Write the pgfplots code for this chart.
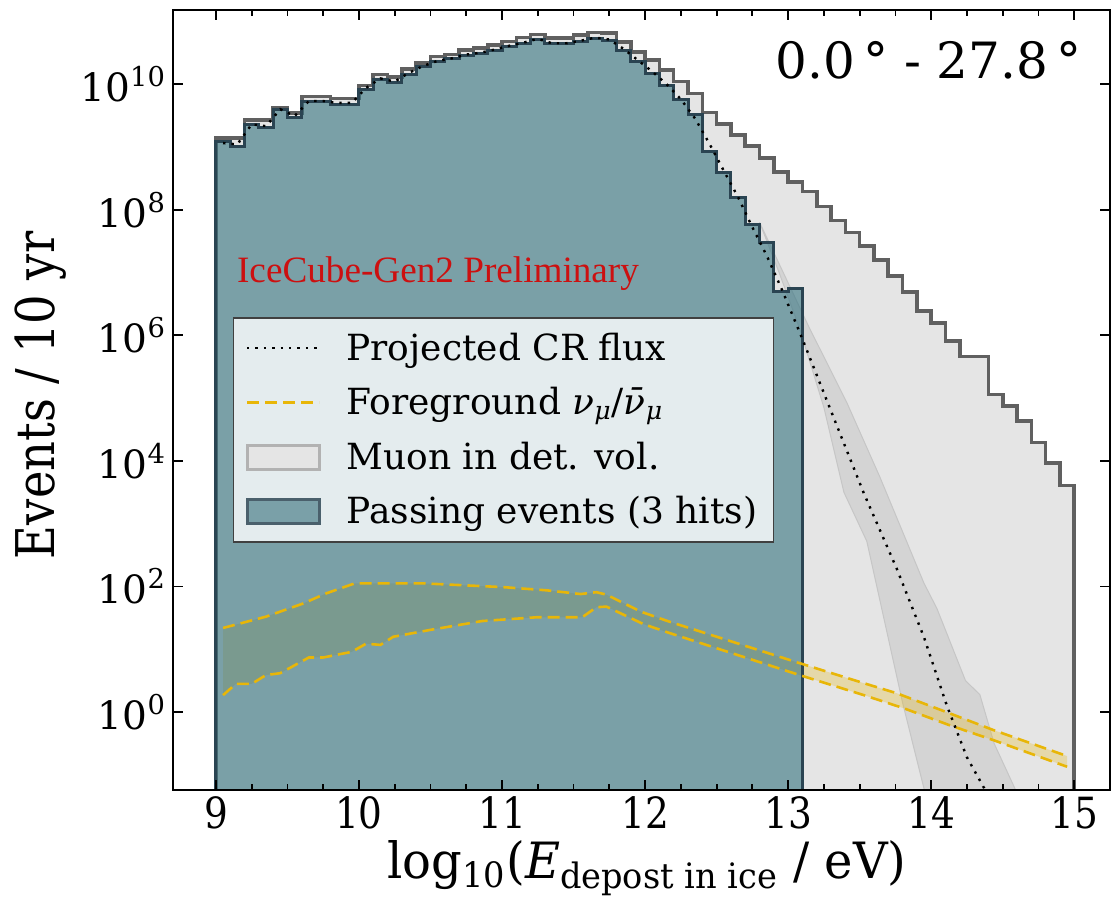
\documentclass[border=0pt]{standalone}
\usepackage{fontspec}
\setmainfont{DejaVu Serif}
\newfontfamily\condfont[FakeStretch=0.87]{DejaVu Serif}
\newfontfamily\xlabfont[FakeStretch=0.96]{DejaVu Serif}
\newfontfamily\timesfont{Liberation Serif}
\usepackage{pgfplots}
\pgfplotsset{compat=1.18}
\definecolor{histgray}{RGB}{229,229,229}
\definecolor{edgegray}{RGB}{96,96,96}
\definecolor{bandgray}{RGB}{212,212,212}
\definecolor{bandedge}{RGB}{198,198,198}
\definecolor{bluefill}{RGB}{51,114,127}
\definecolor{blueleg}{RGB}{122,160,168}
\definecolor{blueedge}{RGB}{42,68,82}
\definecolor{yel}{RGB}{232,182,8}
\definecolor{legbg}{RGB}{228,236,238}
\definecolor{prelim}{RGB}{204,16,16}
\pgfplotsset{
  legend image code/.code={\draw[#1] (0pt,0pt) -- (36pt,0pt);},
  area legend/.style={legend image code/.code={\draw[##1] (0pt,-6pt) rectangle (36pt,6pt);}},
}
\begin{document}
\begin{tikzpicture}
\useasboundingbox (-86.5pt,-53.5pt) rectangle (469.5pt,395pt);
\begin{axis}[
  at={(0pt,0pt)}, anchor=south west,
  scale only axis, width=468.5pt, height=390pt,
  xmin=8.70, xmax=15.25, ymin=-1.24, ymax=11.18,
  axis on top,
  axis line style={line width=1.4pt},
  tick style={line width=0.9pt, color=black},
  tick align=inside,
  major tick length=5pt, minor tick length=2.8pt,
  xtick={9,10,11,12,13,14,15},
  xticklabels={9,10,11,12,13,14,15},
  minor x tick num=3,
  ytick={0,2,4,6,8,10},
  yticklabels={10\textsuperscript{0},10\textsuperscript{2},10\textsuperscript{4},10\textsuperscript{6},10\textsuperscript{8},10\textsuperscript{10}},
  xticklabel style={font=\condfont\fontsize{21.5}{25}\selectfont},
  yticklabel style={font=\fontsize{19.5}{23}\selectfont},
  xlabel={log\textsubscript{10}(\textit{E}\textsubscript{depost in ice} / eV)},
  ylabel={Events / 10 yr},
  xlabel style={at={(axis description cs:0.506,-0.1)}, anchor=center, font=\xlabfont\fontsize{25}{29}\selectfont},
  ylabel style={at={(axis description cs:-0.141,0.506)}, anchor=center, font=\condfont\fontsize{26.7}{30}\selectfont},
  legend style={at={(0.064,0.606)}, anchor=north west, fill=legbg, draw=black!75, line width=0.6pt,
    font=\fontsize{18}{21}\selectfont, row sep=8.1pt, inner xsep=6pt, inner ysep=5.5pt, column sep=11pt},
  legend cell align=left,
]
% Muon in detector volume (outer histogram)
\addplot[const plot, fill=histgray, draw=edgegray, line width=1.8pt, forget plot] coordinates {
(9,-3) (9,9.14) (9.1,9.14) (9.2,9.43) (9.3,9.43) (9.4,9.63) (9.5,9.54) (9.6,9.80) (9.7,9.80) (9.8,9.77) (9.9,9.77)
(10.0,9.98) (10.1,10.15) (10.2,10.11) (10.3,10.24) (10.4,10.34) (10.5,10.44) (10.6,10.47) (10.7,10.54) (10.8,10.57) (10.9,10.62)
(11.0,10.68) (11.1,10.74) (11.2,10.79) (11.3,10.73) (11.4,10.73) (11.5,10.78) (11.6,10.82) (11.7,10.81) (11.8,10.67) (11.9,10.51)
(12.0,10.38) (12.1,10.22) (12.2,10.04) (12.3,9.85) (12.4,9.55) (12.5,9.36) (12.6,9.19) (12.7,9.01) (12.8,8.82) (12.9,8.60)
(13.0,8.44) (13.1,8.29) (13.2,8.05) (13.3,7.83) (13.4,7.64) (13.5,7.42) (13.6,7.20) (13.7,6.94) (13.8,6.69) (13.9,6.39)
(14.0,6.20) (14.1,5.91) (14.2,5.66) (14.3,5.66) (14.4,5.06) (14.5,4.87) (14.6,4.64) (14.7,4.29) (14.8,3.97) (14.9,3.61)
(15.0,3.61) (15.0,-3)} -- cycle;
% CR flux uncertainty band
\addplot[fill=bandgray, draw=bandedge, line width=0.5pt, forget plot] coordinates {
(12.80,7.80) (13.15,6.11) (13.41,4.93) (13.64,3.75) (13.95,2.05) (14.04,1.65) (14.24,0.50) (14.34,0.28) (14.44,-0.50) (14.59,-1.24) (14.65,-1.6)
(14.0,-1.6) (13.95,-1.22) (13.80,0.15) (13.69,1.28) (13.55,2.72) (13.39,3.50) (13.25,4.85) (13.08,6.11) (12.94,6.98)} -- cycle;
% Foreground neutrino band (fill)
\addplot[fill=yel, fill opacity=0.27, draw=none, forget plot] coordinates {
(9.05,1.34) (9.35,1.52) (9.61,1.73) (9.77,1.89) (9.97,2.05) (10.45,2.05) (11.01,1.99) (11.31,1.94) (11.55,1.88) (11.66,1.91) (11.73,1.87) (11.97,1.60) (12.17,1.44) (13.08,0.78) (13.53,0.46) (13.76,0.30) (14.13,-0.02) (14.44,-0.29) (14.95,-0.70)
(14.95,-0.87) (14.44,-0.45) (14.13,-0.21) (13.81,0.06) (13.53,0.27) (13.08,0.59) (12.17,1.26) (11.99,1.40) (11.73,1.68) (11.66,1.67) (11.56,1.51) (11.24,1.51) (10.86,1.45) (10.50,1.31) (10.24,1.20) (10.15,1.07) (10.05,1.09) (9.95,0.96) (9.75,0.87) (9.65,0.87) (9.45,0.62) (9.35,0.59) (9.25,0.45) (9.14,0.45) (9.05,0.27)} -- cycle;
% Passing events
\addplot[const plot, fill=bluefill, fill opacity=0.6, draw=blueedge, line width=1.5pt, forget plot] coordinates {
(9,-3) (9,9.08) (9.1,9.01) (9.2,9.36) (9.3,9.31) (9.4,9.59) (9.5,9.47) (9.6,9.72) (9.7,9.72) (9.8,9.68) (9.9,9.68)
(10.0,9.92) (10.1,10.08) (10.2,10.02) (10.3,10.16) (10.4,10.28) (10.5,10.36) (10.6,10.40) (10.7,10.46) (10.8,10.49) (10.9,10.54)
(11.0,10.60) (11.1,10.65) (11.2,10.71) (11.3,10.64) (11.4,10.64) (11.5,10.68) (11.6,10.73) (11.7,10.70) (11.8,10.54) (11.9,10.36)
(12.0,10.17) (12.1,9.97) (12.2,9.75) (12.3,9.51) (12.4,8.93) (12.5,8.60) (12.6,8.19) (12.7,7.77) (12.8,7.48) (12.9,6.69)
(13.0,6.75) (13.1,6.75) (13.1,-3)} -- cycle;
% Foreground neutrino band (edges)
\addplot[yel, line width=1.3pt, dash pattern=on 6pt off 3pt, forget plot] coordinates {
(9.05,1.34) (9.35,1.52) (9.61,1.73) (9.77,1.89) (9.97,2.05) (10.45,2.05) (11.01,1.99) (11.31,1.94) (11.55,1.88) (11.66,1.91) (11.73,1.87) (11.97,1.60) (12.17,1.44) (13.08,0.78) (13.53,0.46) (13.76,0.30) (14.13,-0.02) (14.44,-0.29) (14.95,-0.70)};
\addplot[yel, line width=1.3pt, dash pattern=on 6pt off 3pt, forget plot] coordinates {
(9.05,0.27) (9.14,0.45) (9.25,0.45) (9.35,0.59) (9.45,0.62) (9.65,0.87) (9.75,0.87) (9.95,0.96) (10.05,1.09) (10.15,1.07) (10.24,1.20) (10.50,1.31) (10.86,1.45) (11.24,1.51) (11.56,1.51) (11.66,1.67) (11.73,1.68) (11.99,1.40) (12.17,1.26) (13.08,0.59) (13.53,0.27) (13.81,0.06) (14.13,-0.21) (14.44,-0.45) (14.95,-0.87)};
% Projected CR flux
\addplot[black, line width=1.2pt, dash pattern=on 1.2pt off 3pt, forget plot] coordinates {
(9.05,9.06) (9.15,9.04) (9.25,9.36) (9.35,9.33) (9.45,9.60) (9.55,9.49) (9.65,9.73) (9.75,9.73) (9.85,9.70) (9.95,9.70)
(10.05,9.94) (10.15,10.09) (10.25,10.04) (10.35,10.18) (10.45,10.29) (10.55,10.37) (10.65,10.41) (10.75,10.47) (10.85,10.50) (10.95,10.55)
(11.05,10.61) (11.15,10.66) (11.25,10.72) (11.35,10.65) (11.45,10.65) (11.55,10.69) (11.65,10.74) (11.75,10.71) (11.85,10.56) (11.95,10.38)
(12.05,10.20) (12.15,10.00) (12.25,9.76) (12.35,9.45) (12.45,9.05) (12.55,8.62) (12.65,8.20) (12.75,7.72) (12.85,7.27) (12.96,6.71)
(13.10,5.94) (13.29,4.85) (13.53,3.48) (13.76,2.28) (13.95,1.19) (14.11,0.10) (14.25,-0.72) (14.37,-1.21) (14.45,-1.6)};
% legend
\addlegendimage{black, line width=1.2pt, dash pattern=on 1.2pt off 3pt}
\addlegendentry{Projected CR flux}
\addlegendimage{yel, line width=1.3pt, dash pattern=on 6pt off 3pt}
\addlegendentry{Foreground \textit{ν}\textsubscript{\textit{μ}}/\textit{ν̄}\textsubscript{\textit{μ}}}
\addlegendimage{area legend, fill=histgray, draw=black!30, line width=1.5pt}
\addlegendentry{Muon in det. vol.}
\addlegendimage{area legend, fill=blueleg, draw=blueedge!85, line width=1.5pt}
\addlegendentry{Passing events (3 hits)}
\node[anchor=east, inner sep=0pt, font=\fontsize{25}{30}\selectfont] at (rel axis cs:0.970,0.936) {0.0\,° - 27.8\,°};
\node[anchor=west, inner sep=0pt, font=\timesfont\fontsize{18.6}{22}\selectfont, text=prelim] at (rel axis cs:0.068,0.662) {IceCube-Gen2 Preliminary};
\end{axis}
\end{tikzpicture}
\end{document}
